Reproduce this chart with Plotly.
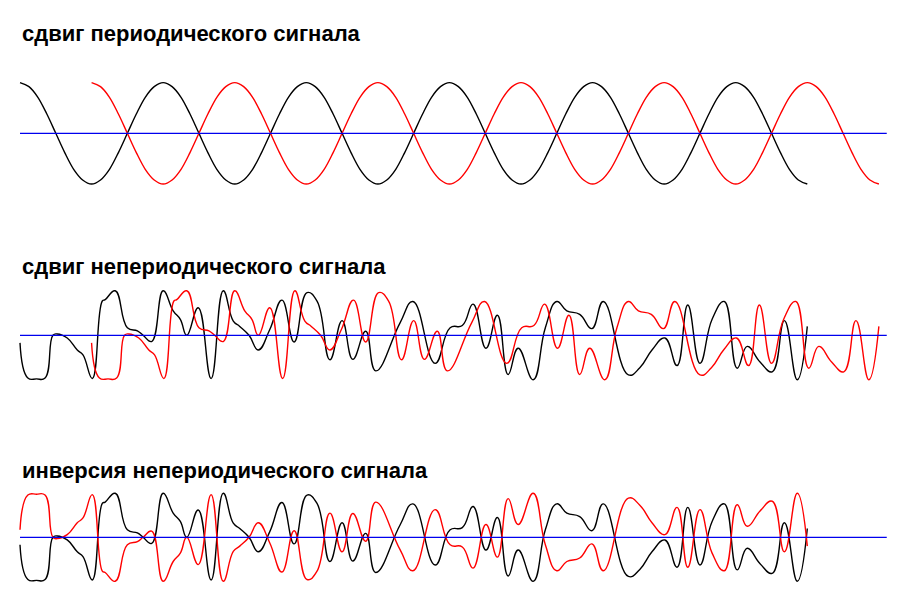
import plotly.graph_objects as go

# periodic signal sampled every 1/16 period (time in half-periods)
cos_t = [i * 0.125 for i in range(89)]
cos_v = [1, 0.92, 0.71, 0.38, 0, -0.38, -0.71, -0.92,
         -1, -0.92, -0.71, -0.38, 0, 0.38, 0.71, 0.92,
         1, 0.92, 0.71, 0.38, 0, -0.38, -0.71, -0.92,
         -1, -0.92, -0.71, -0.38, 0, 0.38, 0.71, 0.92,
         1, 0.92, 0.71, 0.38, 0, -0.38, -0.71, -0.92,
         -1, -0.92, -0.71, -0.38, 0, 0.38, 0.71, 0.92,
         1, 0.92, 0.71, 0.38, 0, -0.38, -0.71, -0.92,
         -1, -0.92, -0.71, -0.38, 0, 0.38, 0.71, 0.92,
         1, 0.92, 0.71, 0.38, 0, -0.38, -0.71, -0.92,
         -1, -0.92, -0.71, -0.38, 0, 0.38, 0.71, 0.92,
         1, 0.92, 0.71, 0.38, 0, -0.38, -0.71, -0.92,
         -1]

# non-periodic signal (extrema and shoulders)
sig_t = [0, 0.11, 0.23, 0.35, 0.46, 0.52, 0.66, 0.80, 0.88, 1.01, 1.15, 1.19,
         1.33, 1.50, 1.64, 1.72, 1.84, 2.00, 2.14, 2.24, 2.33, 2.49, 2.67,
         2.84, 2.98, 3.07, 3.20, 3.33, 3.49, 3.66, 3.83, 4.01, 4.15, 4.33,
         4.50, 4.65, 4.83, 4.97, 5.31, 5.49, 5.80, 6.01, 6.18, 6.33, 6.51,
         6.67, 6.82, 6.96, 7.17, 7.34, 7.50, 7.64, 7.82, 7.99, 8.15, 8.50,
         8.66, 8.83, 9.01, 9.18, 9.33, 9.50, 9.67, 9.84, 10.02, 10.16,
         10.34, 10.51, 10.68, 10.86, 11.0]
sig_v = [-0.17, -0.96, -0.98, -0.96, 0.0, 0.03, -0.06, -0.33, -0.44, -0.97, 0.77, 0.80,
         1.0, 0.17, 0.10, 0.0, -0.14, 1.0, 0.55, 0.36, 0.0, 0.62, -0.97,
         1.0, 0.32, 0.20, 0.0, -0.33, 0.13, 0.79, -0.15, 0.96, 0.77, -0.55,
         0.33, -0.54, 0.09, -0.80, 0.28, 0.76, -0.63, 0.17, 0.22, 0.70, -0.29,
         0.45, -0.88, -0.29, -1.0, 0.17, 0.76, 0.55, 0.47, 0.15, 0.76, -0.89,
         -0.73, -0.33, -0.06, -0.68, 0.68, -0.63, 0.36, 0.76, -0.74, -0.25,
         -0.60, -0.82, 0.33, -1.0, 0.20]

shift = 1.0          # shift in half-periods
axis_t = [0, 12.11]  # zero line extent

titles = ["сдвиг периодического сигнала",
          "сдвиг непериодического сигнала",
          "инверсия непериодического сигнала"]

line_w = 1.4
fig = go.Figure()


def add_pair(t, v_black, t_red, v_red, yax, smooth):
    fig.add_trace(go.Scatter(x=t, y=v_black, mode='lines', yaxis=yax,
                             line=dict(color='black', width=line_w, shape='spline', smoothing=smooth)))
    fig.add_trace(go.Scatter(x=t_red, y=v_red, mode='lines', yaxis=yax,
                             line=dict(color='red', width=line_w, shape='spline', smoothing=smooth)))
    fig.add_trace(go.Scatter(x=axis_t, y=[0, 0], mode='lines', yaxis=yax,
                             line=dict(color='#0000ee', width=1.2)))


add_pair(cos_t, cos_v, [t + shift for t in cos_t], cos_v, 'y', 1.0)
add_pair(sig_t, sig_v, [t + shift for t in sig_t], sig_v, 'y2', 1.3)
add_pair(sig_t, sig_v, sig_t, [-v for v in sig_v], 'y3', 1.3)

# page body has an 8px margin, so the figure is 16px smaller and offset by 8
OFF = 8
W = 907 - 2 * OFF
H = 605 - 2 * OFF


def dom(center, amp, rng):
    lo = center - OFF + amp * rng
    hi = center - OFF - amp * rng
    return [1 - lo / H, 1 - hi / H]


def xrange_px(x0_px, x1_px, t0, t1):
    # map t0 -> x0_px and t1 -> x1_px in window pixels
    s = (t1 - t0) / (x1_px - x0_px)
    left = t0 - (x0_px - OFF) * s
    return [left, left + W * s]


hidden = dict(visible=False, showgrid=False, zeroline=False)
fig.update_layout(
    width=W, height=H,
    margin=dict(l=0, r=0, t=0, b=0),
    paper_bgcolor='white', plot_bgcolor='white',
    showlegend=False,
    xaxis=dict(range=xrange_px(20, 807.3, 0, 11), **hidden),
    yaxis=dict(range=[-1.15, 1.15], domain=dom(133.3, 50.7, 1.15), **hidden),
    yaxis2=dict(range=[-1.2, 1.2], domain=dom(335.3, 44.5, 1.2), anchor='x', **hidden),
    yaxis3=dict(range=[-1.2, 1.2], domain=dom(537.3, 44.0, 1.2), anchor='x', **hidden),
)

for text, yc in zip(titles, [33.4, 266.7, 470.1]):
    fig.add_annotation(text="<b>" + text + "</b>", xref='paper', yref='paper',
                       x=(20 - OFF) / W, y=1 - (yc - OFF) / H, xanchor='left', yanchor='middle',
                       showarrow=False,
                       font=dict(family='Liberation Sans, Arial, sans-serif', size=22, color='black'))

fig.write_html("out.html")
